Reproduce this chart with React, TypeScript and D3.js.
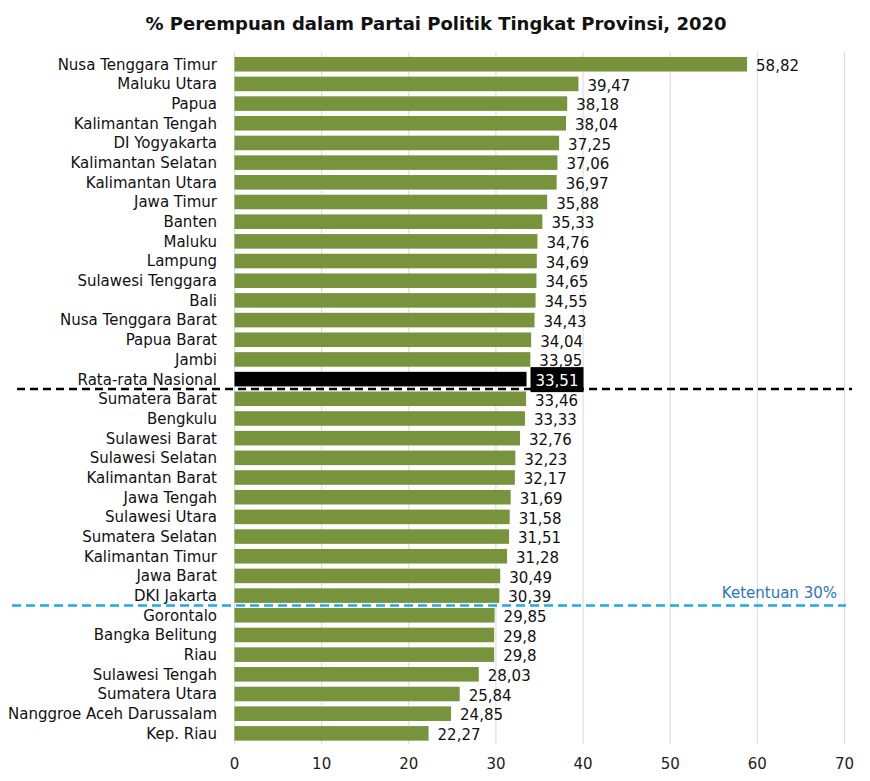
import React from "react";
import * as d3 from "d3";

const provinces = [
  "Nusa Tenggara Timur", "Maluku Utara", "Papua", "Kalimantan Tengah", "DI Yogyakarta",
  "Kalimantan Selatan", "Kalimantan Utara", "Jawa Timur", "Banten", "Maluku", "Lampung",
  "Sulawesi Tenggara", "Bali", "Nusa Tenggara Barat", "Papua Barat", "Jambi",
  "Rata-rata Nasional", "Sumatera Barat", "Bengkulu", "Sulawesi Barat", "Sulawesi Selatan",
  "Kalimantan Barat", "Jawa Tengah", "Sulawesi Utara", "Sumatera Selatan", "Kalimantan Timur",
  "Jawa Barat", "DKI Jakarta", "Gorontalo", "Bangka Belitung", "Riau", "Sulawesi Tengah",
  "Sumatera Utara", "Nanggroe Aceh Darussalam", "Kep. Riau",
];
const values = [
  58.82, 39.47, 38.18, 38.04, 37.25, 37.06, 36.97, 35.88, 35.33, 34.76, 34.69, 34.65, 34.55,
  34.43, 34.04, 33.95, 33.51, 33.46, 33.33, 32.76, 32.23, 32.17, 31.69, 31.58, 31.51, 31.28,
  30.49, 30.39, 29.85, 29.8, 29.8, 28.03, 25.84, 24.85, 22.27,
];
const xTicks = [0, 10, 20, 30, 40, 50, 60, 70];
const title = "% Perempuan dalam Partai Politik Tingkat Provinsi, 2020";
const averageName = "Rata-rata Nasional";
const thresholdAfter = "DKI Jakarta";
const thresholdLabel = "Ketentuan 30%";

const W = 870;
const H = 781;
const FONT = "'DejaVu Sans', Verdana, sans-serif";

export default function App() {
  const x = d3.scaleLinear().domain([0, 70]).range([234.5, 844.5]);
  const y = d3
    .scaleBand<string>()
    .domain(provinces)
    .range([54.4, 743.2])
    .paddingInner(0.26)
    .paddingOuter(0.13);
  const bw = y.bandwidth();
  const step = y.step();
  const fmt = (v: number) => String(v).replace(".", ",");

  const avgY = (y(averageName) as number) + bw + (step - bw) / 2;
  const thrY = (y(thresholdAfter) as number) + bw + (step - bw) / 2;

  return (
    <svg width={W} height={H} style={{ position: "absolute", left: 0, top: 0, background: "#fff" }}>
      <rect x={0} y={0} width={W} height={H} fill="#fff" />
      <text x={436} y={30} textAnchor="middle" fontFamily={FONT} fontWeight="bold" fontSize={18} fill="#111">
        {title}
      </text>
      {xTicks.map((t) => (
        <g key={t}>
          <line x1={x(t)} x2={x(t)} y1={52} y2={744} stroke="#d9d9d9" strokeWidth={1} />
          <text x={x(t)} y={769} textAnchor="middle" fontFamily={FONT} fontSize={15} fill="#222">
            {t}
          </text>
        </g>
      ))}
      {provinces.map((p, i) => {
        const isAvg = p === averageName;
        const yy = y(p) as number;
        const cy = yy + bw / 2;
        const xe = x(values[i]);
        return (
          <g key={p}>
            <rect x={x(0)} y={yy} width={xe - x(0)} height={bw} fill={isAvg ? "#000" : "#77933C"} />
            <text x={217} y={cy} dy="0.36em" textAnchor="end" fontFamily={FONT} fontSize={15} fill="#111">
              {p}
            </text>
            {isAvg && <rect x={xe + 4} y={cy - 12} width={53} height={25} fill="#000" />}
            <text
              x={xe + 9}
              y={cy}
              dy="0.45em"
              fontFamily={FONT}
              fontSize={15}
              fill={isAvg ? "#fff" : "#111"}
            >
              {fmt(values[i])}
            </text>
          </g>
        );
      })}
      <line x1={17} x2={852} y1={avgY} y2={avgY} stroke="#000" strokeWidth={2.5} strokeDasharray="8 5" />
      <line x1={12} x2={846} y1={thrY} y2={thrY} stroke="#1EAAE2" strokeWidth={2.5} strokeDasharray="9 5" />
      <text x={837} y={thrY - 7} textAnchor="end" fontFamily={FONT} fontSize={15} fill="#2E74C0">
        {thresholdLabel}
      </text>
    </svg>
  );
}
